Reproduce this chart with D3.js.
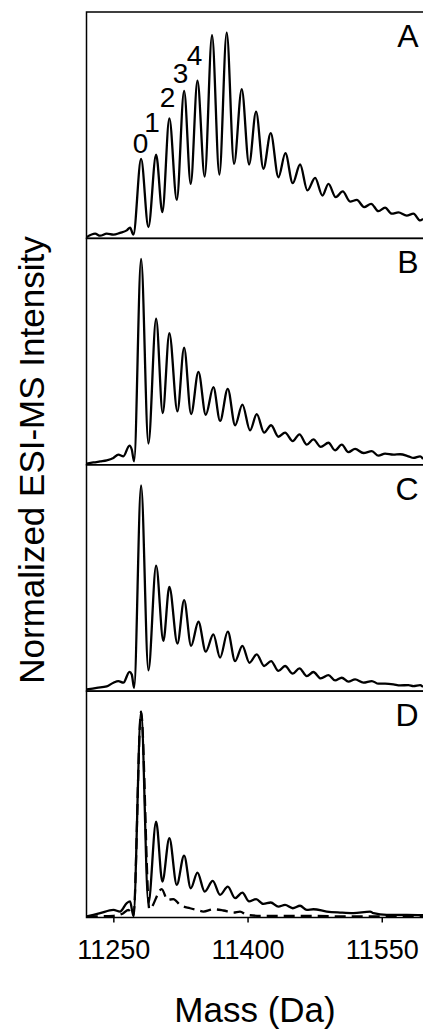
<!DOCTYPE html>
<html>
<head>
<meta charset="utf-8">
<script src="https://cdn.jsdelivr.net/npm/d3@7"></script>
<style>
  html, body { margin: 0; padding: 0; background: #fff; }
  svg { display: block; font-family: "Liberation Sans", Arial, Helvetica, sans-serif; }
</style>
</head>
<body>
<svg id="chart" width="423" height="1031"></svg>
<script>
// ---------------- DATA ----------------
const panelNames = ["A", "B", "C", "D"];
const xTicks = [11250, 11400, 11550];
const xTitle = "Mass (Da)";
const yTitle = "Normalized ESI-MS Intensity";

const peakLabels = ["0", "1", "2", "3", "4"];
const peakLabelMass = [11280.4, 11293.2, 11310.5, 11325.1, 11340.7];
const peakLabelInt = [0.415, 0.517, 0.638, 0.755, 0.843];

const massA = [11220.3, 11229.6, 11235.2, 11242.6, 11250.1, 11257.5, 11265.0, 11268.7, 11272.4, 11281.0, 11289.2, 11297.8, 11304.8, 11312.6, 11320.9, 11329.1, 11336.5, 11344.0, 11352.1, 11360.3, 11368.5, 11376.7, 11384.9, 11393.5, 11401.7, 11409.5, 11417.7, 11425.9, 11434.5, 11442.3, 11450.5, 11458.7, 11466.9, 11475.5, 11483.7, 11490.4, 11498.6, 11506.4, 11514.6, 11522.1, 11530.3, 11538.1, 11546.3, 11553.7, 11561.2, 11568.6, 11577.9, 11585.4, 11592.9, 11596.2];
const intA = [0.006, 0.023, 0.013, 0.023, 0.018, 0.027, 0.039, 0.052, 0.018, 0.386, 0.055, 0.407, 0.128, 0.583, 0.187, 0.717, 0.265, 0.766, 0.300, 0.987, 0.310, 1.000, 0.362, 0.725, 0.359, 0.616, 0.338, 0.511, 0.297, 0.414, 0.268, 0.359, 0.233, 0.294, 0.208, 0.265, 0.200, 0.228, 0.179, 0.187, 0.152, 0.168, 0.132, 0.149, 0.120, 0.126, 0.111, 0.120, 0.087, 0.095];

const massB = [11220.3, 11227.7, 11235.2, 11242.6, 11250.1, 11255.6, 11261.2, 11268.0, 11270.6, 11273.2, 11281.0, 11289.2, 11297.8, 11305.2, 11312.6, 11321.6, 11329.1, 11336.9, 11345.1, 11353.3, 11361.8, 11369.3, 11377.9, 11386.1, 11394.2, 11402.8, 11410.3, 11418.5, 11426.3, 11434.5, 11441.9, 11450.5, 11458.0, 11466.2, 11473.6, 11481.8, 11490.4, 11497.8, 11505.3, 11512.7, 11520.2, 11529.5, 11538.9, 11546.3, 11553.7, 11563.0, 11570.5, 11579.8, 11585.4, 11592.9, 11596.2];
const intB = [0.005, 0.011, 0.016, 0.021, 0.033, 0.049, 0.041, 0.093, 0.074, 0.016, 1.000, 0.103, 0.710, 0.251, 0.639, 0.259, 0.569, 0.246, 0.451, 0.243, 0.377, 0.213, 0.369, 0.192, 0.292, 0.167, 0.246, 0.156, 0.192, 0.136, 0.156, 0.115, 0.148, 0.098, 0.123, 0.087, 0.107, 0.070, 0.098, 0.061, 0.077, 0.057, 0.066, 0.044, 0.054, 0.049, 0.051, 0.041, 0.033, 0.041, 0.028];

const massC = [11220.3, 11231.4, 11242.6, 11250.1, 11255.6, 11261.2, 11268.0, 11270.6, 11273.2, 11281.0, 11289.2, 11297.8, 11305.9, 11312.6, 11321.6, 11329.1, 11336.9, 11345.1, 11353.3, 11361.8, 11369.3, 11377.9, 11386.1, 11394.2, 11402.1, 11410.3, 11418.5, 11426.3, 11434.5, 11441.9, 11450.5, 11458.0, 11466.2, 11473.6, 11481.8, 11490.4, 11497.8, 11505.3, 11512.7, 11520.2, 11529.5, 11538.9, 11546.3, 11553.7, 11563.0, 11570.5, 11579.8, 11585.4, 11592.9, 11596.2];
const intC = [0.008, 0.016, 0.023, 0.041, 0.049, 0.041, 0.094, 0.081, 0.016, 1.000, 0.101, 0.610, 0.244, 0.507, 0.231, 0.442, 0.220, 0.337, 0.192, 0.276, 0.163, 0.289, 0.146, 0.220, 0.138, 0.179, 0.122, 0.146, 0.098, 0.122, 0.085, 0.111, 0.073, 0.093, 0.062, 0.078, 0.052, 0.065, 0.046, 0.057, 0.041, 0.049, 0.036, 0.036, 0.033, 0.028, 0.029, 0.024, 0.029, 0.020];

const massD = [11220.3, 11235.2, 11250.1, 11257.5, 11265.0, 11268.7, 11272.4, 11281.0, 11289.2, 11297.8, 11304.8, 11312.6, 11320.9, 11329.1, 11336.5, 11344.0, 11352.1, 11361.1, 11369.3, 11377.9, 11386.1, 11394.2, 11401.7, 11409.5, 11417.7, 11425.9, 11434.5, 11441.9, 11450.5, 11458.7, 11466.2, 11473.6, 11488.5, 11503.4, 11518.3, 11537.0, 11540.7, 11555.6, 11577.9, 11596.2];
const intD = [0.005, 0.021, 0.037, 0.029, 0.070, 0.078, 0.008, 1.000, 0.070, 0.466, 0.175, 0.385, 0.159, 0.301, 0.142, 0.218, 0.126, 0.178, 0.110, 0.150, 0.094, 0.121, 0.078, 0.089, 0.066, 0.073, 0.053, 0.061, 0.045, 0.057, 0.037, 0.040, 0.029, 0.024, 0.021, 0.029, 0.021, 0.013, 0.013, 0.011];

const massDdash = [11220.3, 11250.1, 11261.2, 11266.8, 11272.4, 11281.0, 11290.3, 11304.1, 11310.4, 11317.1, 11324.6, 11335.8, 11343.2, 11350.7, 11361.8, 11373.0, 11384.2, 11391.6, 11399.1, 11414.0, 11436.4, 11473.6, 11510.9, 11596.2];
const intDdash = [0.005, 0.008, 0.021, 0.037, 0.005, 1.000, 0.040, 0.138, 0.086, 0.089, 0.061, 0.045, 0.037, 0.029, 0.040, 0.034, 0.024, 0.029, 0.013, 0.008, 0.008, 0.008, 0.005, 0.005];

// ---------------- LAYOUT ----------------
const W = 423, H = 1031;
const plotLeft = 86.5, plotRight = 426.5;
const plotTop = 12, plotBottom = 917.5;
const panelH = (plotBottom - plotTop) / panelNames.length;

const svg = d3.select("#chart");
svg.append("rect").attr("width", W).attr("height", H).attr("fill", "#fff");

const x = d3.scaleLinear().domain([11220, 11600]).range([plotLeft, plotRight]);

const zip = (m, v) => m.map((d, i) => ({ m: d, v: v[i] }));
const panelSeries = [
  [{ data: zip(massA, intA), dash: null }],
  [{ data: zip(massB, intB), dash: null }],
  [{ data: zip(massC, intC), dash: null }],
  [{ data: zip(massDdash, intDdash), dash: "11,6" }, { data: zip(massD, intD), dash: null }]
];

svg.append("defs").append("clipPath").attr("id", "clipAll")
  .append("rect").attr("x", plotLeft).attr("y", plotTop - 2)
  .attr("width", plotRight - plotLeft).attr("height", plotBottom - plotTop + 4);

panelNames.forEach((name, i) => {
  const top = plotTop + i * panelH;
  const bottom = top + panelH;
  const y = d3.scaleLinear().domain([0, 1.1]).range([bottom, top]);
  const g = svg.append("g");

  const line = d3.line().x(d => x(d.m)).y(d => y(d.v)).curve(d3.curveMonotoneX);
  const lg = g.append("g").attr("clip-path", "url(#clipAll)");
  panelSeries[i].forEach(s => {
    lg.append("path")
      .attr("d", line(s.data))
      .attr("fill", "none")
      .attr("stroke", "#000")
      .attr("stroke-width", 2.3)
      .attr("stroke-linejoin", "round")
      .attr("stroke-dasharray", s.dash);
  });

  // frame
  g.append("rect")
    .attr("x", plotLeft).attr("y", top)
    .attr("width", plotRight - plotLeft).attr("height", panelH)
    .attr("fill", "none").attr("stroke", "#000").attr("stroke-width", 1.5);

  // panel letter
  g.append("text")
    .attr("x", 418.5).attr("y", top + 35)
    .attr("text-anchor", "end")
    .attr("font-size", 32)
    .attr("fill", "#000")
    .text(name);

  if (i === 0) {
    peakLabels.forEach((t, k) => {
      g.append("text")
        .attr("x", x(peakLabelMass[k]))
        .attr("y", y(peakLabelInt[k]))
        .attr("text-anchor", "middle")
        .attr("font-size", 28)
        .attr("fill", "#000")
        .text(t);
    });
  }

  if (i === panelNames.length - 1) {
    const ax = g.append("g")
      .attr("transform", `translate(0,${bottom})`)
      .call(d3.axisBottom(x).tickValues(xTicks).tickFormat(d3.format("d")).tickSize(5).tickPadding(17));
    ax.select(".domain").remove();
    ax.selectAll(".tick line").attr("stroke", "#000").attr("stroke-width", 1.5);
    ax.selectAll(".tick text")
      .attr("font-size", 27)
      .attr("font-family", "'Liberation Sans', Arial, sans-serif")
      .attr("fill", "#000");
  }
});

// axis titles
svg.append("text")
  .attr("x", 255).attr("y", 1021.5)
  .attr("text-anchor", "middle")
  .attr("font-size", 35)
  .attr("fill", "#000")
  .text(xTitle);

svg.append("text")
  .attr("transform", "translate(43.5,460) rotate(-90)")
  .attr("text-anchor", "middle")
  .attr("font-size", 35)
  .attr("fill", "#000")
  .text(yTitle);
</script>
</body>
</html>
